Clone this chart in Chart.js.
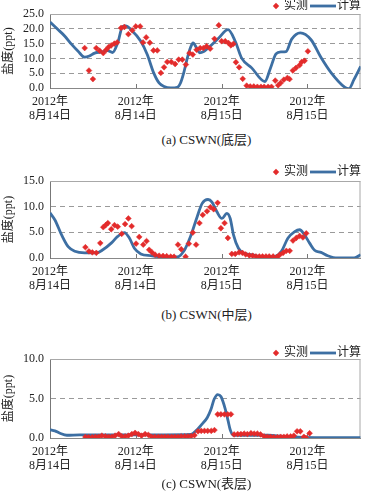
<!DOCTYPE html>
<html><head><meta charset="utf-8">
<script src="https://cdn.jsdelivr.net/npm/chart.js@4.4.0/dist/chart.umd.min.js"></script>
<style>
html,body{margin:0;padding:0;background:#fff;}
#wrap{position:relative;width:365px;height:491px;overflow:hidden;background:#fff;}
.box{position:absolute;left:0;width:365px;}
.cap{position:absolute;left:50px;width:313px;text-align:center;font:13px "Liberation Serif","Noto Sans CJK SC",serif;color:#222;line-height:16px;white-space:nowrap;}
</style></head><body>
<div id="wrap">
  <div class="box" style="top:0px;height:130px"><canvas id="c1"></canvas></div>
  <div class="cap" style="top:132px">(a) CSWN(底层)</div>
  <div class="box" style="top:164px;height:136px"><canvas id="c2"></canvas></div>
  <div class="cap" style="top:307px">(b) CSWN(中层)</div>
  <div class="box" style="top:344px;height:136px"><canvas id="c3"></canvas></div>
  <div class="cap" style="top:476px">(c) CSWN(表层)</div>
</div>
<script>
// ---- axis ticks ----
const tickHours = [0, 12, 24, 36];
const tickYear = ['2012年', '2012年', '2012年', '2012年'];
const tickDay = ['8月14日', '8月14日', '8月15日', '8月15日'];
const xMax = 43.42;
const seriesNames = ['实测', '计算'];
const yTitle = '盐度(ppt)';

// ---- (a) bottom layer ----
const calcA_h = [0,1,2.08,3.0,3.93,4.85,5.5,6.24,7.35,8.05,8.74,9.5,10.15,10.6,11.3,12.7,13.6,14.5,15.25,15.95,16.9,17.8,18.25,18.7,19.2,19.65,20.0,20.55,20.9,21.5,22.2,23.6,24.9,25.9,26.8,28.2,30.05,30.8,31.6,32.3,33.0,33.8,35.0,36.5,37.9,39.3,41.2,41.8,42.5,43.45];
const calcA_v = [22.3,20.0,17.5,14.8,12.4,10.4,10.8,11.8,12.2,12.6,12.0,15.5,20.8,21.0,19.8,15.8,11.3,5.1,1.7,0.5,0.0,0.2,1.7,5.1,10.1,13.7,15.2,13.3,11.9,12.3,13.7,16.9,19.7,15.8,10.1,6.8,2.2,6.5,11.5,12.2,12.3,16.5,18.6,16.3,10.3,5.2,0.3,-0.2,2.8,7.3];
const obsA_h = [4.85,5.45,6.0,6.47,6.94,7.45,7.86,8.18,8.56,9.0,9.39,9.94,10.4,10.96,11.5,12.0,12.6,13.0,13.45,13.96,14.47,15.0,15.5,15.95,16.4,16.96,17.5,18.0,18.5,19.0,19.5,19.97,20.5,21.0,21.45,21.9,22.4,23.0,23.6,24.0,24.5,24.96,25.3,25.65,26.0,26.45,26.95,27.5,28.0,28.5,29.0,29.5,29.95,30.5,30.97,31.5,31.9,32.25,32.7,33.2,33.5,33.96,34.4,34.9,35.2,35.6,36.06];
const obsA_v = [13.5,5.9,3.0,13.5,12.6,11.8,12.9,13.8,14.4,15.0,15.4,20.3,20.6,18.2,19.5,20.8,20.8,15.4,17.1,15.3,12.7,12.7,5.1,7.0,8.8,8.8,8.1,9.6,9.6,7.9,11.8,11.3,12.9,13.5,13.5,14.1,13.3,16.6,21.2,15.8,15.8,15.2,14.4,14.9,8.7,7.0,3.1,0.8,0.5,0.5,0.4,0.4,0.4,0.4,0.4,2.5,0.9,1.7,2.8,3.4,3.0,5.9,6.8,7.7,8.8,9.2,12.4];

// ---- (b) middle layer ----
const calcB_h = [0,0.69,1.62,2.54,3.47,4.85,6.48,7.39,8.56,9.47,10.4,11.1,11.8,12.7,14.1,15.95,17.8,18.7,19.65,20.57,21.26,22.1,22.65,23.34,24.04,24.73,25.2,25.66,26.35,27.05,28.2,30.06,31.44,32.36,33.29,34.22,34.91,35.6,36.3,37.0,37.9,38.84,40.2,42.54,43.45];
const calcB_v = [8.8,7.4,4.5,2.2,1.3,1.0,1.0,1.6,2.9,4.2,4.95,3.9,1.9,0.8,0.45,0.2,0.2,1.3,4.2,8.0,10.6,11.4,10.9,9.0,7.7,8.7,7.7,4.5,1.9,1.0,0.65,0.2,0.3,1.3,3.9,5.15,5.5,4.5,2.9,1.5,1.1,0.45,0.0,0.0,0.65];
const obsB_h = [4.95,5.45,5.92,6.48,7.03,7.45,7.77,8.09,8.56,9.02,9.47,10.03,10.5,10.96,11.42,12.03,12.48,13.04,13.5,13.87,14.25,14.7,15.26,15.81,16.32,16.88,17.34,17.9,18.35,18.96,19.42,19.97,20.43,20.9,21.36,21.96,22.43,22.89,23.44,23.9,24.41,24.87,25.42,25.9,26.45,26.91,27.37,27.88,28.34,28.8,29.27,29.72,30.2,30.65,31.2,31.76,32.14,32.6,33.05,33.52,33.98,34.44,34.9,35.37,35.83];
const obsB_v = [2.1,1.3,1.1,1.0,2.9,6.0,6.4,6.8,5.6,6.4,6.1,4.7,6.6,7.7,6.2,2.8,4.1,2.6,3.3,1.6,1.1,0.65,0.45,0.4,0.35,0.25,0.25,2.6,1.7,0.25,2.8,4.95,2.6,6.8,8.4,9.1,9.9,9.5,10.75,5.8,6.8,3.9,0.8,0.8,1.1,1.0,0.7,0.5,0.45,0.3,0.3,0.3,0.3,0.3,0.3,0.2,0.65,1.0,1.4,1.4,3.4,3.9,4.3,4.0,4.8];

// ---- (c) surface layer ----
const calcC_h = [0,0.69,1.4,2.36,4.16,8,12,16,19.7,20.4,21.3,22.0,22.5,22.95,23.45,23.9,24.5,24.9,25.2,25.66,27.7,30.5,32.6,34.7,37.0,43.45];
const calcC_v = [1.05,0.9,0.6,0.35,0.4,0.4,0.4,0.4,0.45,0.9,1.8,2.6,3.6,4.9,5.5,5.25,3.7,2.2,1.05,0.35,0.35,0.35,0.2,0.1,0.05,0.05];
const obsC_h = [4.95,5.4,5.9,6.35,6.8,7.25,7.75,8.2,8.65,9.1,9.6,10.05,10.5,10.95,11.45,11.9,12.35,12.8,13.3,13.75,14.2,14.65,15.15,15.6,16.05,16.5,17.0,17.45,17.9,18.35,18.85,19.3,19.75,20.2,20.7,21.15,21.6,22.05,22.55,23.0,23.45,23.9,24.4,24.85,25.3,25.75,26.25,26.7,27.15,27.6,28.1,28.55,29.0,29.45,29.95,30.4,30.85,31.3,31.8,32.25,32.7,33.15,33.65,34.1,34.55,35.0,35.5,35.8,36.3];
const obsC_v = [0.13,0.1,0.1,0.15,0.15,0.3,0.2,0.15,0.15,0.3,0.5,0.2,0.2,0.3,0.5,0.65,0.5,0.3,0.5,0.4,0.15,0.15,0.15,0.15,0.15,0.15,0.15,0.15,0.15,0.2,0.2,0.2,0.25,0.35,0.85,0.9,0.9,0.9,0.9,1.0,3.0,3.0,3.0,3.0,3.0,0.45,0.5,0.5,0.55,0.5,0.6,0.55,0.55,0.45,0.2,0.15,0.15,0.1,0.1,0.15,0.15,0.2,0.2,0.3,0.85,0.85,0.15,0.0,0.6];

const RED = '#e32b2b';
const BLUE = '#3d6fa3';
const FONT = '"Liberation Serif", "Noto Sans CJK SC", serif';
const TXT = '#222';

function xy(h, v) { return h.map((x, i) => ({ x: x, y: v[i] })); }

const framePlugin = {
  id: 'frame',
  beforeDatasetsDraw(chart) {
    const { ctx, chartArea: a } = chart;
    ctx.save();
    ctx.strokeStyle = '#a8a8a8';
    ctx.lineWidth = 1;
    ctx.beginPath();
    ctx.moveTo(a.left, a.top + 0.5);
    ctx.lineTo(a.right - 0.5, a.top + 0.5);
    ctx.lineTo(a.right - 0.5, a.bottom);
    ctx.stroke();
    const xs = chart.scales.x;
    ctx.strokeStyle = '#777';
    ctx.beginPath();
    tickHours.forEach(h => {
      const px = Math.round(xs.getPixelForValue(h)) + 0.5;
      ctx.moveTo(px, a.bottom);
      ctx.lineTo(px, a.bottom - 4);
    });
    ctx.stroke();
    ctx.restore();
  },
  afterDraw(chart, args, opts) {
    const ctx = chart.ctx;
    const y = opts.legendY;
    const ds = chart.data.datasets;
    ctx.save();
    ctx.fillStyle = RED;
    ctx.beginPath();
    ctx.moveTo(276, y - 3.2); ctx.lineTo(279.2, y); ctx.lineTo(276, y + 3.2); ctx.lineTo(272.8, y);
    ctx.closePath(); ctx.fill();
    ctx.font = '12px ' + FONT;
    ctx.fillStyle = TXT;
    ctx.textBaseline = 'middle';
    ctx.fillText(ds[0].label, 284, y);
    ctx.strokeStyle = BLUE;
    ctx.lineWidth = 2.8;
    ctx.beginPath(); ctx.moveTo(310, y); ctx.lineTo(336, y); ctx.stroke();
    ctx.fillText(ds[1].label, 337, y);
    ctx.restore();
  }
};

function build(id, calcH, calcV, obsH, obsV, yMax, padTop, legendY) {
  return new Chart(document.getElementById(id), {
    type: 'line',
    data: {
      datasets: [
        { label: seriesNames[0], data: xy(obsH, obsV), showLine: false, pointStyle: 'rectRot',
          pointRadius: 2.9, pointBackgroundColor: RED, pointBorderColor: RED, pointBorderWidth: 0.5,
          backgroundColor: RED, borderColor: RED, order: 0 },
        { label: seriesNames[1], data: xy(calcH, calcV), borderColor: BLUE, backgroundColor: BLUE,
          borderWidth: 2.8, pointRadius: 0, cubicInterpolationMode: 'monotone', fill: false, order: 1 }
      ]
    },
    options: {
      animation: false, responsive: true, maintainAspectRatio: false,
      layout: { padding: { top: padTop, right: 2, left: 0, bottom: 0 } },
      plugins: { legend: { display: false }, tooltip: { enabled: false }, frame: { legendY: legendY } },
      scales: {
        x: {
          type: 'linear', min: 0, max: xMax,
          afterBuildTicks: s => { s.ticks = tickHours.map(v => ({ value: v })); },
          ticks: { callback: (v, i) => [tickYear[i], tickDay[i]], padding: 7, maxRotation: 0, autoSkip: false,
                   font: { family: FONT, size: 12, lineHeight: 1.18 }, color: TXT },
          grid: { display: false, drawTicks: false },
          border: { display: true, color: '#888', width: 1 },
          afterFit: s => { s.height = 42; }
        },
        y: {
          min: 0, max: yMax,
          ticks: { stepSize: 5, autoSkip: false, callback: v => Number(v).toFixed(1), padding: 6,
                   font: { family: FONT, size: 12 }, color: TXT },
          grid: { color: '#9a9a9a', drawTicks: false, lineWidth: 1 },
          border: { display: true, dash: [5, 4], color: '#777', width: 1 },
          title: { display: true, text: yTitle, font: { family: FONT, size: 12 }, color: TXT, padding: { top: 2, bottom: 0 } },
          afterFit: s => { s.width = 50; }
        }
      }
    },
    plugins: [framePlugin]
  });
}

build('c1', calcA_h, calcA_v, obsA_h, obsA_v, 25, 14, 6);
build('c2', calcB_h, calcB_v, obsB_h, obsB_v, 15, 17, 8);
build('c3', calcC_h, calcC_v, obsC_h, obsC_v, 10, 15, 9);
</script>
</body></html>
